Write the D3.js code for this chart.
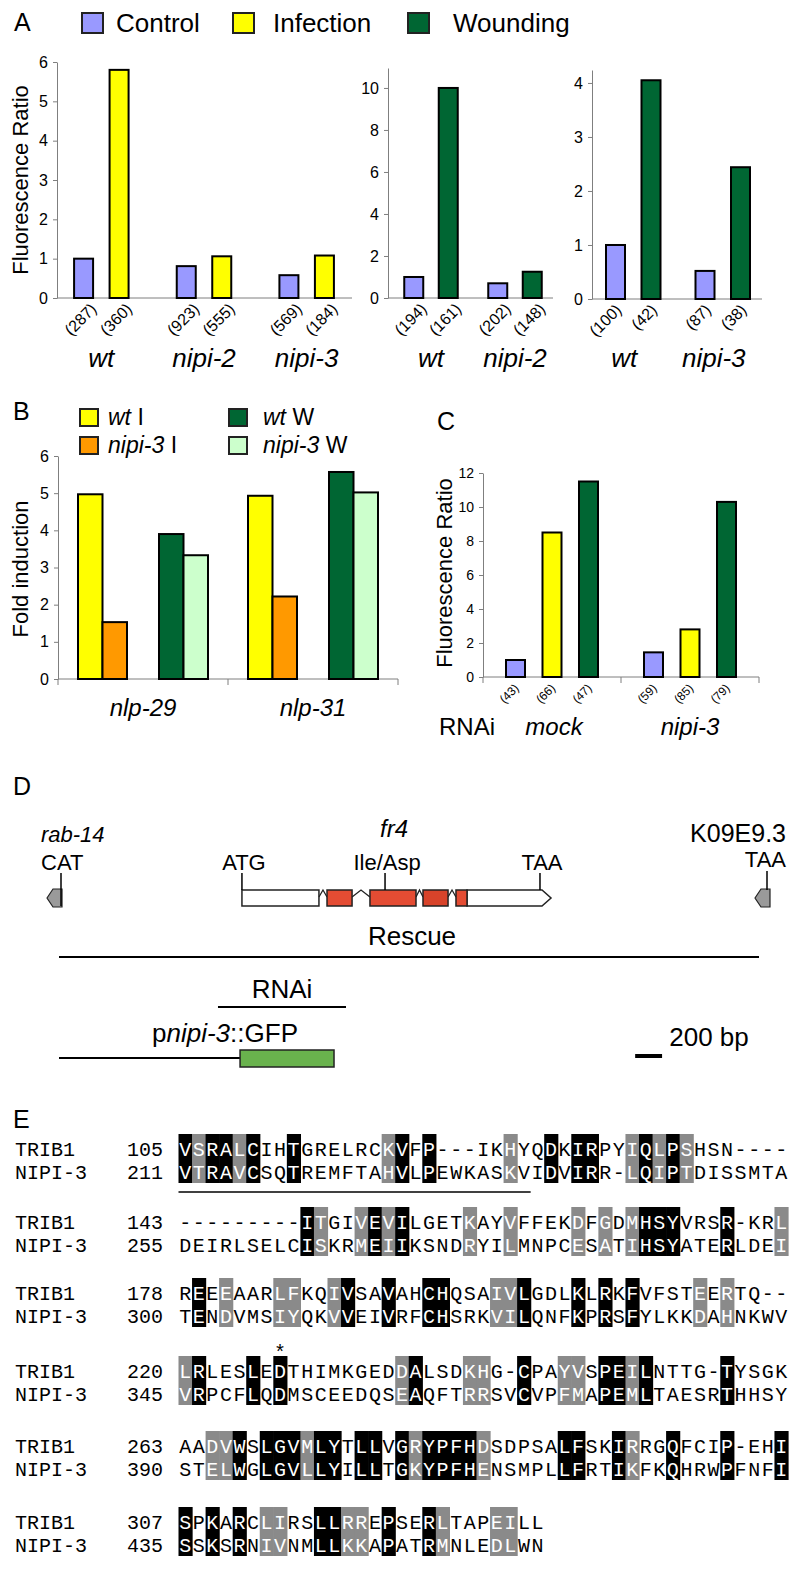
<!DOCTYPE html>
<html><head><meta charset="utf-8">
<script src="https://cdn.jsdelivr.net/npm/d3@7"></script>
<style>body{margin:0;background:#fff}</style>
</head><body><svg id="c" width="800" height="1572" xmlns="http://www.w3.org/2000/svg"></svg>
<script>
// ---------------- DATA ----------------
// Panel A
const aLegend = ["Control", "Infection", "Wounding"];
const a1Groups = ["wt", "nipi-2", "nipi-3"];
const a1Control = [1.0, 0.81, 0.58];
const a1Infection = [5.8, 1.06, 1.08];
const a1CountControl = ["(287)", "(923)", "(569)"];
const a1CountInfection = ["(360)", "(555)", "(184)"];
const a1Ticks = [0, 1, 2, 3, 4, 5, 6];
const a2Groups = ["wt", "nipi-2"];
const a2Control = [1.0, 0.7];
const a2Wounding = [10.0, 1.25];
const a2CountControl = ["(194)", "(202)"];
const a2CountWounding = ["(161)", "(148)"];
const a2Ticks = [0, 2, 4, 6, 8, 10];
const a3Groups = ["wt", "nipi-3"];
const a3Control = [1.0, 0.52];
const a3Wounding = [4.05, 2.44];
const a3CountControl = ["(100)", "(87)"];
const a3CountWounding = ["(42)", "(38)"];
const a3Ticks = [0, 1, 2, 3, 4];
// Panel B
const bGenes = ["nlp-29", "nlp-31"];
const bWtI = [4.97, 4.93];
const bNipiI = [1.53, 2.22];
const bWtW = [3.9, 5.57];
const bNipiW = [3.33, 5.02];
const bTicks = [0, 1, 2, 3, 4, 5, 6];
// Panel C
const cGroups = ["mock", "nipi-3"];
const cControl = [1.0, 1.45];
const cInfection = [8.5, 2.8];
const cWounding = [11.5, 10.3];
const cCountControl = ["(43)", "(59)"];
const cCountInfection = ["(66)", "(85)"];
const cCountWounding = ["(47)", "(79)"];
const cTicks = [0, 2, 4, 6, 8, 10, 12];
// Panel D (positions in bp along the locus)
const dExonsWhite = [[1359, 1931]];
const dExonsRed = [[1991, 2177], [2310, 2652], [2704, 2890], [2949, 3031]];
const dLastExon = [3031, 3588, 3655];
const dIntrons = [[1931, 1991], [2177, 2310], [2652, 2704], [2890, 2949]];
const dMarks = [["ATG", 1359], ["Ile/Asp", 2422], ["TAA", 3573]];
const dRescue = [0, 5200];
const dRNAi = [1181, 2132];
const dPromoter = [0, 1345];
const dGFP = [1345, 2043];
const dScaleBar = 200;
// Panel E
const eNames = ["TRIB1", "NIPI-3"];
const eStartTRIB1 = [105, 143, 178, 220, 263, 307];
const eStartNIPI3 = [211, 255, 300, 345, 390, 435];
const eSeqTRIB1 = [
  "VSRALCIHTGRELRCKVFP---IKHYQDKIRPYIQLPSHSN----",
  "---------ITGIVEVILGETKAYVFFEKDFGDMHSYVRSR-KRL",
  "REEEAARLFKQIVSAVAHCHQSAIVLGDLKLRKFVFSTEERTQ--",
  "LRLESLEDTHIMKGEDDALSDKHG-CPAYVSPEILNTTG-TYSGK",
  "AADVWSLGVMLYTLLVGRYPFHDSDPSALFSKIRRGQFCIP-EHI",
  "SPKARCLIRSLLRREPSERLTAPEILL"];
const eSeqNIPI3 = [
  "VTRAVCSQTREMFTAHVLPEWKASKVIDVIRR-LQIPTDISSMTA",
  "DEIRLSELCISKRMEIIKSNDRYILMNPCESATIHSYATERLDEI",
  "TENDVMSIYQKVVEIVRFCHSRKVILQNFKPRSFYLKKDAHNKWV",
  "VRPCFLQDMSCEEDQSEAQFTRRSVCVPFMAPEMLTAESRTHHSY",
  "STELWGLGVLLYILLTGKYPFHENSMPLLFRTIKFKQHRWPFNFI",
  "SSKSRNIVNMLLKKAPATRMNLEDLWN"];
// B = identical (black), G = similar (grey), . = none
const eShade = [
  "BGBBGB..B......GB.B.....G..B.BB..GBGBG.......",
  ".........BG..GBGB....G..G....G.G.GBBB...B...G",
  ".B.G...GG..GB..B..BB...GGB...B.B.B....G.G....",
  "GB...B.B........GB...GG..B..GG.BBGB.....B....",
  "..GGB.BBBGBB.BB.BGBBBBG.....BB..BG..B...B...B",
  "B.B.B.GG..BBGG.B..BG...GG.."];
const eUnderline = [0, 1, 26];   // block, first col, last col
const eStar = [2, 8];            // block, col

// ---------------- DRAWING ----------------
const svg = d3.select('#c');
const SANS = "'Liberation Sans', Arial, Helvetica, sans-serif";
const MONO = "'Liberation Mono', 'DejaVu Sans Mono', monospace";
const AX = '#7f7f7f';
const C_CTRL = '#9999ff', C_INF = '#ffff00', C_WND = '#006633', C_ORG = '#ff9900', C_LGT = '#ccffcc';

function txt(x, y, s, size, opts = {}) {
  const t = svg.append('text').attr('x', x).attr('y', y).attr('font-family', opts.family || SANS)
    .attr('font-size', size).attr('fill', opts.fill || '#000')
    .attr('text-anchor', opts.anchor || 'start');
  if (opts.italic) t.attr('font-style', 'italic');
  t.text(s);
  return t;
}
function mixed(x, y, parts, size, anchor) {
  const t = svg.append('text').attr('x', x).attr('y', y).attr('font-family', SANS)
    .attr('font-size', size).attr('text-anchor', anchor || 'start');
  parts.forEach(p => t.append('tspan').attr('font-style', p[1] ? 'italic' : 'normal').text(p[0]));
  return t;
}
function yAxis(y, x, ticks, size) {
  const g = svg.append('g').attr('transform', `translate(${x},0)`)
    .call(d3.axisLeft(y).tickValues(ticks).tickFormat(d3.format('d')).tickSize(4).tickSizeOuter(0).tickPadding(5));
  g.select('.domain').attr('stroke', AX);
  g.selectAll('.tick line').attr('stroke', AX);
  g.selectAll('.tick text').attr('font-family', SANS).attr('font-size', size).attr('fill', '#000');
}
function bar(cx, w, y, v, color) {
  svg.append('rect').attr('x', cx - w / 2).attr('width', w).attr('y', y(v))
    .attr('height', y(0) - y(v)).attr('fill', color).attr('stroke', '#000').attr('stroke-width', 2);
}
function count(cx, cy, s, size) {
  svg.append('text').attr('transform', `translate(${cx},${cy}) rotate(-45)`)
    .attr('text-anchor', 'end').attr('font-family', SANS).attr('font-size', size).text(s);
}

// Panel labels
txt(14, 31, 'A', 25);
txt(13, 420, 'B', 25);
txt(437, 430, 'C', 25);
txt(13, 795, 'D', 25);
txt(13, 1128, 'E', 25);

// ---- Panel A legend
const legCols = [C_CTRL, C_INF, C_WND];
const legX = [82, 233, 408], legTX = [116, 273, 453];
aLegend.forEach((s, i) => {
  svg.append('rect').attr('x', legX[i]).attr('y', 13).attr('width', 21).attr('height', 20)
    .attr('fill', legCols[i]).attr('stroke', '#222').attr('stroke-width', 2);
  txt(legTX[i], 32, s, 26);
});

function panelA(cfg) {
  const y = d3.scaleLinear().domain([0, cfg.yMax]).range([cfg.y0, cfg.yTop]);
  const x = d3.scaleBand().domain(cfg.groups).range(cfg.xRange);
  yAxis(y, cfg.axisX, cfg.ticks, 16);
  svg.append('line').attr('x1', cfg.axisX).attr('x2', cfg.endX).attr('y1', y(0)).attr('y2', y(0)).attr('stroke', AX);
  cfg.series.forEach((s, si) => {
    cfg.groups.forEach((gname, gi) => {
      const cx = x(gname) + x.bandwidth() / 2 + cfg.offsets[si];
      bar(cx, 19, y, s.values[gi], s.color);
      count(cx + cfg.countDx, y(0) + 12, s.counts[gi], 16);
    });
  });
  cfg.groups.forEach(gname => {
    txt(x(gname) + x.bandwidth() / 2 + cfg.labelDx, 367, gname, 26, { italic: true, anchor: 'middle' });
  });
}
panelA({ groups: a1Groups, yMax: 6, y0: 298, yTop: 62, xRange: [50, 358], axisX: 57, endX: 352,
  ticks: a1Ticks, offsets: [-17.75, 17.75], countDx: 14, labelDx: 0,
  series: [{ values: a1Control, color: C_CTRL, counts: a1CountControl },
           { values: a1Infection, color: C_INF, counts: a1CountInfection }] });
panelA({ groups: a2Groups, yMax: 10.95, y0: 298, yTop: 68, xRange: [389, 557], axisX: 388, endX: 553,
  ticks: a2Ticks, offsets: [-17.25, 17.25], countDx: 14, labelDx: 0,
  series: [{ values: a2Control, color: C_CTRL, counts: a2CountControl },
           { values: a2Wounding, color: C_WND, counts: a2CountWounding }] });
panelA({ groups: a3Groups, yMax: 4.24, y0: 299, yTop: 70, xRange: [588.5, 767.5], axisX: 592, endX: 762,
  ticks: a3Ticks, offsets: [-17.75, 17.75], countDx: 7, labelDx: -9,
  series: [{ values: a3Control, color: C_CTRL, counts: a3CountControl },
           { values: a3Wounding, color: C_WND, counts: a3CountWounding }] });
svg.append('text').attr('transform', 'translate(28,180) rotate(-90)').attr('text-anchor', 'middle')
  .attr('font-family', SANS).attr('font-size', 22).text('Fluorescence Ratio');

// ---- Panel B
{
  const legs = [[80, 409, C_INF, [['wt', 1], [' I', 0]]], [80, 437, C_ORG, [['nipi-3', 1], [' I', 0]]],
                [229, 409, C_WND, [['wt', 1], [' W', 0]]], [229, 437, C_LGT, [['nipi-3', 1], [' W', 0]]]];
  legs.forEach(l => {
    svg.append('rect').attr('x', l[0]).attr('y', l[1]).attr('width', 18).attr('height', 17)
      .attr('fill', l[2]).attr('stroke', '#222').attr('stroke-width', 2);
    mixed(l[0] + (l[0] < 100 ? 28 : 34), l[1] + 16, l[3], 23);
  });
  const y = d3.scaleLinear().domain([0, 6]).range([679, 456]);
  const x = d3.scaleBand().domain(bGenes).range([58, 398]);
  yAxis(y, 58, bTicks, 16);
  svg.append('line').attr('x1', 58).attr('x2', 398).attr('y1', y(0)).attr('y2', y(0)).attr('stroke', AX);
  [58, x('nlp-31'), 398].forEach(xx => svg.append('line').attr('x1', xx).attr('x2', xx)
    .attr('y1', y(0)).attr('y2', y(0) + 6).attr('stroke', AX));
  const series = [[bWtI, C_INF, -52.75], [bNipiI, C_ORG, -28.25], [bWtW, C_WND, 28.25], [bNipiW, C_LGT, 52.75]];
  series.forEach(s => bGenes.forEach((g, gi) => bar(x(g) + x.bandwidth() / 2 + s[2], 24.5, y, s[0][gi], s[1])));
  bGenes.forEach(g => txt(x(g) + x.bandwidth() / 2, 716, g, 24, { italic: true, anchor: 'middle' }));
  svg.append('text').attr('transform', 'translate(28,569) rotate(-90)').attr('text-anchor', 'middle')
    .attr('font-family', SANS).attr('font-size', 22).text('Fold induction');
}

// ---- Panel C
{
  const y = d3.scaleLinear().domain([0, 12]).range([677, 473]);
  const x = d3.scaleBand().domain(cGroups).range([483, 759]);
  yAxis(y, 483, cTicks, 14);
  svg.append('line').attr('x1', 483).attr('x2', 759).attr('y1', y(0)).attr('y2', y(0)).attr('stroke', AX);
  [483, x('nipi-3'), 759].forEach(xx => svg.append('line').attr('x1', xx).attr('x2', xx)
    .attr('y1', y(0)).attr('y2', y(0) + 6).attr('stroke', AX));
  const series = [[cControl, C_CTRL, -36.5, cCountControl], [cInfection, C_INF, 0, cCountInfection],
                  [cWounding, C_WND, 36.5, cCountWounding]];
  series.forEach(s => cGroups.forEach((g, gi) => {
    const cx = x(g) + x.bandwidth() / 2 + s[2];
    bar(cx, 19, y, s[0][gi], s[1]);
    count(cx + 4, y(0) + 12, s[3][gi], 12);
  }));
  txt(439, 735, 'RNAi', 24);
  txt(x('mock') + x.bandwidth() / 2 + 2, 735, 'mock', 24, { italic: true, anchor: 'middle' });
  txt(x('nipi-3') + x.bandwidth() / 2, 735, 'nipi-3', 24, { italic: true, anchor: 'middle' });
  svg.append('text').attr('transform', 'translate(452,573) rotate(-90)').attr('text-anchor', 'middle')
    .attr('font-family', SANS).attr('font-size', 22).text('Fluorescence Ratio');
}

// ---- Panel D
{
  const x = d3.scaleLinear().domain([0, 5200]).range([59, 759]);
  const yT = 890, yB = 906, yM = 898;
  const leftArrow = (xr) => svg.append('polygon')
    .attr('points', `${xr - 15},${yM} ${xr - 9},${yT - 1} ${xr},${yT - 1} ${xr},${yB + 1} ${xr - 9},${yB + 1}`)
    .attr('fill', '#9a9a9a').attr('stroke', '#222').attr('stroke-width', 1.2);
  leftArrow(62);
  svg.append('line').attr('x1', 61).attr('x2', 61).attr('y1', 873).attr('y2', yB).attr('stroke', '#000').attr('stroke-width', 1.5);
  leftArrow(770);
  svg.append('line').attr('x1', 767).attr('x2', 767).attr('y1', 871).attr('y2', yT).attr('stroke', '#000').attr('stroke-width', 1.5);
  txt(41, 842, 'rab-14', 22, { italic: true });
  txt(41, 870, 'CAT', 22);
  txt(786, 842, 'K09E9.3', 25, { anchor: 'end' });
  txt(786, 867, 'TAA', 22, { anchor: 'end' });
  txt(394, 837, 'fr4', 24, { italic: true, anchor: 'middle' });
  dExonsWhite.forEach(e => svg.append('rect').attr('x', x(e[0])).attr('y', yT).attr('width', x(e[1]) - x(e[0]))
    .attr('height', yB - yT).attr('fill', '#fff').attr('stroke', '#222').attr('stroke-width', 1.5));
  dIntrons.forEach(e => svg.append('polyline')
    .attr('points', `${x(e[0])},${yM - 1} ${(x(e[0]) + x(e[1])) / 2},${yT} ${x(e[1])},${yM - 1}`)
    .attr('fill', 'none').attr('stroke', '#222').attr('stroke-width', 1.3));
  svg.append('polygon').attr('points',
    `${x(dLastExon[0])},${yT} ${x(dLastExon[1])},${yT} ${x(dLastExon[2])},${yM} ${x(dLastExon[1])},${yB} ${x(dLastExon[0])},${yB}`)
    .attr('fill', '#fff').attr('stroke', '#222').attr('stroke-width', 1.5);
  dExonsRed.forEach((e, i) => svg.append('rect').attr('x', x(e[0])).attr('y', yT).attr('width', x(e[1]) - x(e[0]))
    .attr('height', yB - yT).attr('fill', i === 2 ? '#d8432a' : '#e44c33').attr('stroke', '#222').attr('stroke-width', 1.5));
  dMarks.forEach(m => {
    svg.append('line').attr('x1', x(m[1])).attr('x2', x(m[1])).attr('y1', 873).attr('y2', yT).attr('stroke', '#000').attr('stroke-width', 1.5);
    txt(x(m[1]) + 2, 870, m[0], 22, { anchor: 'middle' });
  });
  svg.append('line').attr('x1', x(dRescue[0])).attr('x2', x(dRescue[1])).attr('y1', 957).attr('y2', 957).attr('stroke', '#000').attr('stroke-width', 2.2);
  txt((x(dRescue[0]) + x(dRescue[1])) / 2 + 3, 945, 'Rescue', 26, { anchor: 'middle' });
  svg.append('line').attr('x1', x(dRNAi[0])).attr('x2', x(dRNAi[1])).attr('y1', 1007).attr('y2', 1007).attr('stroke', '#000').attr('stroke-width', 2);
  txt((x(dRNAi[0]) + x(dRNAi[1])) / 2, 998, 'RNAi', 26, { anchor: 'middle' });
  svg.append('line').attr('x1', x(dPromoter[0])).attr('x2', x(dPromoter[1])).attr('y1', 1058).attr('y2', 1058).attr('stroke', '#000').attr('stroke-width', 2);
  svg.append('rect').attr('x', x(dGFP[0])).attr('y', 1050).attr('width', x(dGFP[1]) - x(dGFP[0])).attr('height', 17)
    .attr('fill', '#69b24d').attr('stroke', '#222').attr('stroke-width', 1.5);
  mixed(225, 1042, [['p', 0], ['nipi-3', 1], ['::GFP', 0]], 26, 'middle');
  const sb0 = 4280;
  svg.append('line').attr('x1', x(sb0)).attr('x2', x(sb0 + dScaleBar)).attr('y1', 1056).attr('y2', 1056).attr('stroke', '#000').attr('stroke-width', 4);
  txt(709, 1046, '200 bp', 26, { anchor: 'middle' });
}

// ---- Panel E
{
  const col = d3.scaleBand().domain(d3.range(45)).range([178.5, 788]);
  const bw = col.bandwidth();
  const blockY = d3.scaleOrdinal().domain(d3.range(6)).range([1156, 1229, 1300, 1378, 1453, 1529]);
  const FS = 20;
  function row(y, name, num, seq, shade) {
    const g = svg.append('g').attr('font-family', MONO).attr('font-size', FS);
    g.append('text').attr('x', 15).attr('y', y).text(name);
    g.append('text').attr('x', 163).attr('y', y).attr('text-anchor', 'end').text(num);
    seq.split('').forEach((ch, i) => {
      g.append('text').attr('x', col(i) + bw / 2).attr('y', y).attr('text-anchor', 'middle')
        .attr('fill', shade[i] === '.' ? '#000' : '#fff').text(ch);
    });
  }
  eSeqTRIB1.forEach((s, b) => {
    const yT = blockY(b), yN = yT + 23;
    eShade[b].split('').forEach((c, i) => {
      if (c === '.') return;
      svg.append('rect').attr('x', col(i)).attr('y', yT - 22).attr('width', bw + 0.6).attr('height', 49)
        .attr('fill', c === 'B' ? '#000' : '#8a8a8a');
    });
    row(yT, eNames[0], eStartTRIB1[b], s, eShade[b]);
    row(yN, eNames[1], eStartNIPI3[b], eSeqNIPI3[b], eShade[b]);
  });
  const ub = eUnderline[0];
  svg.append('line').attr('x1', col(eUnderline[1] - 1)).attr('x2', col(eUnderline[2] - 1) + bw)
    .attr('y1', blockY(ub) + 36).attr('y2', blockY(ub) + 36).attr('stroke', '#000').attr('stroke-width', 1.5);
  svg.append('text').attr('x', col(eStar[1] - 1) + bw / 2).attr('y', blockY(eStar[0]) + 23 + 36)
    .attr('text-anchor', 'middle').attr('font-family', MONO).attr('font-size', FS).text('*');
}
</script></body></html>
